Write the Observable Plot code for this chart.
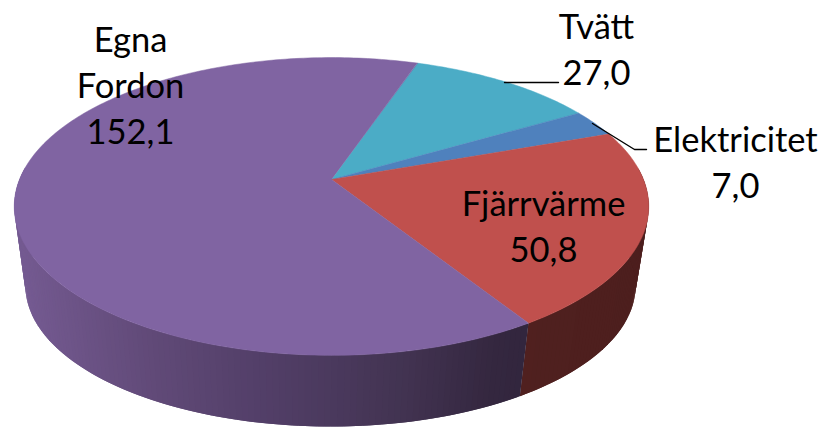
<!DOCTYPE html>
<html>
<head>
<meta charset="utf-8">
<script src="https://cdn.jsdelivr.net/npm/d3@7"></script>
<script src="https://cdn.jsdelivr.net/npm/@observablehq/plot@0.6"></script>
<style>html,body{margin:0;padding:0;background:#fff}svg{display:block}</style>
</head>
<body>
<div id="chart"></div>
<script>
// Data, clockwise from the slice boundary near the top
const categories = ["Tvätt", "Elektricitet", "Fjärrvärme", "Egna\nFordon"];
const values = [27.0, 7.0, 50.8, 152.1];
const topColors = ["#4BACC6", "#4F81BD", "#C0504D", "#8064A2"];

// Layout
const W = 819, H = 427;
const startDeg = 18.8;
const persp = 0.181;
const topPlane = {cx: 331, cy: 179, a: 312, b: 144};
const basePlane = {cx: 330, cy: 260, a: 300, b: 136};
const labelPos = [[596, 47], [735, 160], [543, 224], [130, 83]];
const leaders = [
  [[504, 82], [558, 82]],
  [[592, 123], [634, 149], [646, 149]]
];

const project = (plane, deg) => {
  const r = deg * Math.PI / 180, X = Math.sin(r), Y = -Math.cos(r), t = 1 / (1 - persp * Y);
  return [plane.cx + plane.a * X * t, plane.cy + plane.b * Y * t];
};

const total = d3.sum(values);
let acc = startDeg;
const slices = values.map((v, i) => {
  const a0 = acc; acc += v / total * 360;
  return {i, a0, a1: acc};
});

const topRows = slices.flatMap(s => {
  const n = Math.ceil(s.a1 - s.a0);
  const arc = d3.range(n + 1).map(k => project(topPlane, s.a0 + (s.a1 - s.a0) * k / n));
  return [[topPlane.cx, topPlane.cy], ...arc].map(p => ({x: p[0], y: p[1], z: s.i, c: topColors[s.i]}));
});

// Side wall: shaded strips on the part that faces the viewer, painted in order so each overlaps the last
const purpleShade = d3.scaleLinear()
  .domain([20, 150, 250, 400, 500, 530])
  .range(["#745a91", "#614a78", "#54406a", "#433453", "#34273f", "#32263e"]).clamp(true);
const redShade = d3.scaleLinear()
  .domain([520, 640]).range(["#50201f", "#4d1f1e"]).clamp(true);
const sideRows = [];
[slices[2], slices[3]].forEach(s => {
  const a0 = Math.max(s.a0, 85), a1 = Math.min(s.a1, 275);
  for (let d = a1 - 1; d > a0 - 1; d -= 1) {
    const from = Math.max(d, a0), to = Math.min(d + 2, a1);
    const q = [project(topPlane, from), project(topPlane, to), project(basePlane, to), project(basePlane, from)];
    const mid = (q[0][0] + q[1][0]) / 2;
    const c = s.i === 2 ? redShade(mid) : purpleShade(mid);
    q.forEach(p => sideRows.push({x: p[0], y: p[1], z: `${s.i}-${d}`, c}));
  }
});

const labelRows = categories.map((c, i) => ({
  text: `${c}\n${values[i].toFixed(1).replace(".", ",")}`,
  x: labelPos[i][0], y: labelPos[i][1]
}));
const leaderRows = leaders.flatMap((l, i) => l.map(p => ({x: p[0], y: p[1], z: i})));

const plot = Plot.plot({
  width: W, height: H,
  marginTop: 0, marginRight: 0, marginBottom: 0, marginLeft: 0,
  x: {domain: [0, W], range: [0, W], axis: null},
  y: {domain: [0, H], range: [0, H], axis: null},
  color: {type: "identity"},
  marks: [
    Plot.line(sideRows, {x: "x", y: "y", z: "z", fill: "c", stroke: "none", curve: "linear-closed"}),
    Plot.line(topRows, {x: "x", y: "y", z: "z", fill: "c", stroke: "c", strokeWidth: 0.5, curve: "linear-closed"}),
    Plot.line(leaderRows, {x: "x", y: "y", z: "z", stroke: "#000", strokeWidth: 1.4, curve: "linear"}),
    Plot.text(labelRows, {x: "x", y: "y", text: "text", fill: "#000", fontFamily: "Lato", fontSize: 34.5, lineHeight: 1.33, lineAnchor: "middle", textAnchor: "middle"})
  ]
});
document.getElementById("chart").append(plot);
</script>
</body>
</html>
